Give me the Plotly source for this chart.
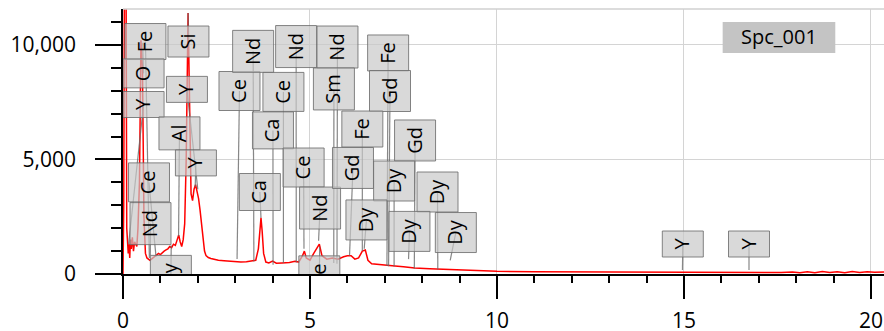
import plotly.graph_objects as go

# ---------------- spectrum data (keV, counts) ----------------
energy_kev = [0.00, 0.02, 0.04, 0.08, 0.10, 0.12, 0.14, 0.16, 0.18, 0.20, 0.22, 0.25, 0.28, 0.31,
              0.34, 0.37, 0.40, 0.44, 0.48, 0.52, 0.56, 0.60, 0.64, 0.68, 0.72, 0.76, 0.80, 0.85,
              0.90, 0.95, 1.00, 1.05, 1.10, 1.15, 1.20, 1.25, 1.30, 1.35, 1.40, 1.45, 1.49, 1.53,
              1.57, 1.61, 1.65, 1.69, 1.72, 1.74, 1.76, 1.79, 1.82, 1.86, 1.90, 1.94, 1.98, 2.02,
              2.06, 2.10, 2.14, 2.18, 2.22, 2.28, 2.35, 2.45, 2.55, 2.70, 2.85, 3.00, 3.15, 3.30,
              3.45, 3.55, 3.62, 3.66, 3.69, 3.72, 3.76, 3.82, 3.90, 4.00, 4.10, 4.25, 4.45, 4.60,
              4.70, 4.80, 4.85, 4.90, 5.00, 5.10, 5.20, 5.25, 5.32, 5.45, 5.60, 5.75, 5.90, 6.00,
              6.10, 6.20, 6.30, 6.40, 6.48, 6.55, 6.65, 6.80, 7.00, 7.20, 7.50, 7.80, 8.20, 8.60,
              9.00, 9.50, 10.0, 11.0, 12.0, 13.0, 14.0, 15.0, 16.0, 17.0, 17.6, 17.9, 18.1, 18.3,
              18.5, 18.7, 18.9, 19.1, 19.3, 19.5, 19.7, 19.9, 20.1, 20.35]
counts = [0, 3000, 14000, 14000, 2000, 1400, 900, 1300, 700, 1500, 1100, 1600, 1000, 1400,
          1300, 1200, 2000, 4000, 10200, 9000, 2500, 900, 700, 650, 600, 650, 700, 750,
          800, 900, 850, 950, 1000, 1050, 1100, 1200, 1150, 1300, 1250, 1500, 1700, 1400,
          1200, 1500, 2200, 5000, 10500, 11400, 9500, 6000, 3500, 3200, 3700, 3900, 3600, 3300,
          2800, 2200, 1500, 1000, 800, 720, 680, 640, 600, 580, 560, 540, 520, 540,
          560, 600, 1100, 2100, 2450, 1900, 900, 520, 480, 560, 470, 480, 500, 560,
          520, 800, 1000, 700, 600, 900, 1200, 1300, 800, 650, 700, 650, 750, 800,
          800, 650, 700, 1000, 1050, 600, 450, 420, 380, 360, 320, 260, 230, 200,
          170, 140, 120, 100, 90, 80, 70, 75, 60, 60, 65, 90, 60, 100,
          60, 110, 70, 100, 60, 110, 70, 100, 80, 90]

# ---------------- element labels ----------------
label_text = ["Fe", "O", "Y", "Si", "Y", "Al", "Y", "Ce", "Nd", "Dy",
              "Ce", "Nd", "Nd", "Nd", "Ce", "Sm", "Ca", "Ca", "Ce", "Nd", "Ce",
              "Gd", "Fe", "Gd", "Fe", "Gd", "Dy", "Dy", "Dy", "Dy", "Dy", "Y", "Y"]
label_box_kev = [0.60, 0.55, 0.55, 1.75, 1.71, 1.51, 1.95, 0.695, 0.735, 1.28,
                 3.115, 3.48, 4.63, 5.735, 4.29, 5.64, 4.01, 3.66, 4.83, 5.27, 5.25,
                 6.15, 7.09, 7.14, 6.40, 7.81, 7.25, 8.41, 6.51, 7.66, 8.90, 14.97, 16.74]
label_box_counts = [10150, 8760, 7400, 10150, 8060, 6140, 4850, 4000, 2200, -60,
                    7990, 9720, 9930, 9910, 7950, 8080, 6270, 3580, 4650, 2880, -60,
                    4630, 9650, 7990, 6330, 5830, 4060, 3580, 2360, 1860, 1810, 1310, 1310]
label_tip_kev = [0.705, 0.525, 0.15, 1.74, 2.00, 1.486, 1.93, 0.883, 0.73, 1.29,
                 3.05, 3.50, 4.633, 5.722, 4.29, 5.636, 4.013, 3.69, 4.84, 5.23, 5.26,
                 6.057, 7.058, 7.102, 6.40, 7.79, 7.249, 8.418, 6.45, 7.636, 8.75, 14.96, 16.74]
label_tip_counts = [700, 10100, 1300, 11400, 3700, 1650, 3800, 750, 800, 1250,
                    650, 550, 500, 450, 480, 480, 400, 2450, 1100, 1450, 1200,
                    800, 350, 340, 1000, 230, 330, 200, 1100, 650, 600, 170, 170]

series_name = "Spc_001"
x_ticks = [0, 5, 10, 15, 20]
y_ticks = [0, 5000, 10000]

# ---------------- style / layout ----------------
FONT = "Open Sans"
W, H = 884, 331
M = dict(l=123, r=0, t=9, b=57)
X_RANGE = [0, 20.35]
Y_RANGE = [0, 11570]
box_w_px = 41
box_h_px = {"Y": 26, "O": 29, "Si": 31, "Al": 33, "Fe": 36, "Ca": 37, "Ce": 39,
            "Nd": 42, "Gd": 41, "Dy": 40, "Sm": 42}

# axis scale (data units per pixel) so the boxes get a fixed pixel size
kev_per_px = (X_RANGE[1] - X_RANGE[0]) / (W - M["l"] - M["r"])
cnt_per_px = (Y_RANGE[1] - Y_RANGE[0]) / (H - M["t"] - M["b"])

fig = go.Figure()
fig.add_trace(go.Scatter(x=energy_kev, y=counts, mode="lines",
                         line=dict(color="#ff0000", width=1.5),
                         name=series_name, showlegend=False, hoverinfo="x+y"))

shapes = []
for t, bx, by, tx, ty in zip(label_text, label_box_kev, label_box_counts,
                             label_tip_kev, label_tip_counts):
    shapes.append(dict(type="line", xref="x", yref="y", x0=tx, y0=ty, x1=bx, y1=by,
                       line=dict(color="rgba(105,105,105,0.8)", width=1.2), layer="above"))
for t, bx, by in zip(label_text, label_box_kev, label_box_counts):
    hw = box_w_px / 2 * kev_per_px
    hh = box_h_px.get(t, 40) / 2 * cnt_per_px
    shapes.append(dict(type="rect", xref="x", yref="y",
                       x0=bx - hw, x1=bx + hw, y0=by - hh, y1=by + hh,
                       fillcolor="rgba(200,200,200,0.69)",
                       line=dict(color="rgba(110,110,110,0.85)", width=1), layer="above",
                       label=dict(text=t, textangle=-90, textposition="middle center",
                                  font=dict(family=FONT, size=20, color="black"))))
shapes.append(dict(type="line", xref="paper", yref="paper", x0=0, x1=1, y0=1, y1=1,
                   line=dict(color="#d0d0d0", width=1.5)))
shapes.append(dict(type="rect", xref="paper", yref="paper", x0=0.788, x1=0.936, y0=0.834, y1=0.951,
                   fillcolor="rgb(196,196,196)", line=dict(width=0), layer="above",
                   label=dict(text=series_name, textposition="middle center",
                              font=dict(family=FONT, size=20, color="black"))))

fig.update_layout(
    width=W, height=H,
    margin=dict(**M, autoexpand=False),
    plot_bgcolor="white", paper_bgcolor="white",
    font=dict(family=FONT, size=21, color="black"),
    showlegend=False,
    shapes=shapes,
    xaxis=dict(range=X_RANGE, tickvals=x_ticks, ticks="outside", ticklen=23, tickwidth=1.5,
               tickcolor="black", showline=True, linecolor="black", linewidth=1.5,
               showgrid=True, gridcolor="#d4d4d4", gridwidth=1, zeroline=False,
               tickfont=dict(family=FONT, size=21, color="black"), ticklabelstandoff=4,
               minor=dict(dtick=1, ticks="outside", ticklen=7, tickwidth=1.5, tickcolor="black",
                          showgrid=False),
               automargin=False),
    yaxis=dict(range=Y_RANGE, tickvals=y_ticks, tickformat=",d", ticks="outside", ticklen=26,
               tickwidth=1.5, tickcolor="black", showline=True, linecolor="black", linewidth=1.5,
               showgrid=True, gridcolor="#d4d4d4", gridwidth=1, zeroline=False,
               tickfont=dict(family=FONT, size=21, color="black"), ticklabelstandoff=15,
               minor=dict(dtick=1000, ticks="outside", ticklen=10, tickwidth=1.5, tickcolor="black",
                          showgrid=False),
               automargin=False),
)

fig.write_html("out.html", config={"displayModeBar": False},
               post_script="document.body.style.margin='0';")
